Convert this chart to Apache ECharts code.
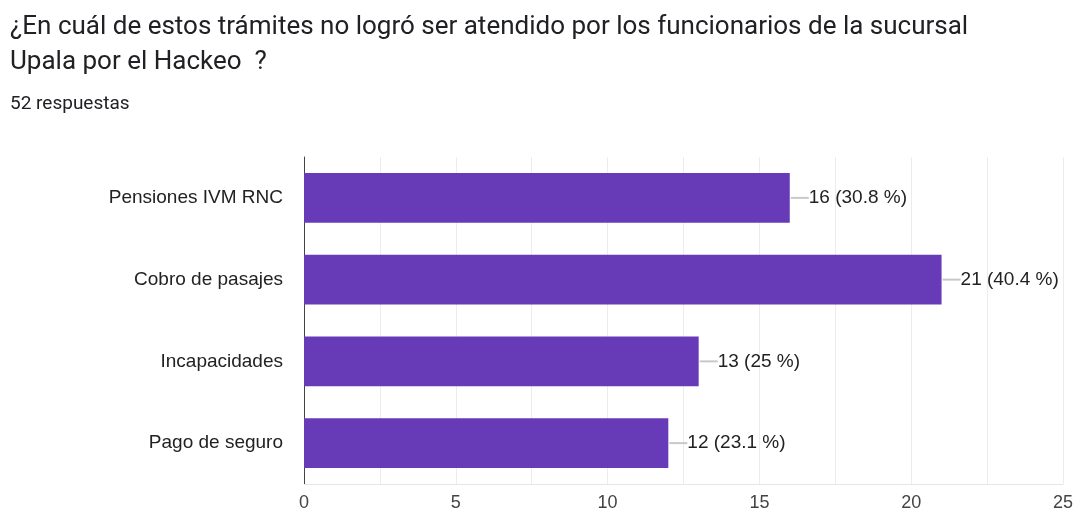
<!DOCTYPE html>
<html>
<head>
<meta charset="utf-8">
<script src="https://cdn.jsdelivr.net/npm/echarts@6/dist/echarts.min.js"></script>
<style>
  html, body { margin: 0; padding: 0; background: #fff; }
  #chart { width: 1080px; height: 515px; }
</style>
</head>
<body>
<div id="chart"></div>
<script>
// Survey answers: which procedure could not be handled after the hack
const categories = ['Pensiones IVM RNC', 'Cobro de pasajes', 'Incapacidades', 'Pago de seguro'];
const counts = [16, 21, 13, 12];
const percents = ['30.8', '40.4', '25', '23.1'];
const xTicks = [0, 5, 10, 15, 20, 25];

const chart = echarts.init(document.getElementById('chart'));

chart.setOption({
  animation: false,
  backgroundColor: '#ffffff',
  title: [
    {
      text: '¿En cuál de estos trámites no logró ser atendido por los funcionarios de la sucursal\nUpala por el Hackeo  ?',
      left: 10,
      top: 10,
      padding: 0,
      textStyle: {
        fontFamily: 'Roboto',
        fontSize: 26,
        fontWeight: 'normal',
        color: '#202124',
        lineHeight: 35
      }
    },
    {
      text: '52 respuestas',
      left: 10,
      top: 95,
      padding: 0,
      textStyle: {
        fontFamily: 'Roboto',
        fontSize: 19,
        fontWeight: 'normal',
        color: '#202124',
        lineHeight: 19
      }
    }
  ],
  grid: { left: 304, right: 17, top: 157, bottom: 31, containLabel: false },
  xAxis: {
    type: 'value',
    min: xTicks[0],
    max: xTicks[xTicks.length - 1],
    interval: xTicks[1] - xTicks[0],
    axisLine: { show: true, lineStyle: { color: '#e6e6e6' } },
    axisTick: { show: false },
    axisLabel: {
      margin: 10,
      fontFamily: 'Liberation Sans',
      fontSize: 18,
      color: '#444'
    },
    splitLine: { show: true, lineStyle: { color: '#ececec' } },
    minorTick: { show: false, splitNumber: 2 },
    minorSplitLine: { show: true, lineStyle: { color: '#ececec' } }
  },
  yAxis: {
    type: 'category',
    data: categories,
    inverse: true,
    axisLine: { show: true, onZero: false, lineStyle: { color: '#444', width: 1 } },
    axisTick: { show: false },
    axisLabel: {
      margin: 21,
      fontFamily: 'Liberation Sans',
      fontSize: 19,
      color: '#222'
    },
    splitLine: { show: false }
  },
  series: [{
    type: 'bar',
    data: counts,
    barCategoryGap: '39%',
    itemStyle: { color: '#673ab7' },
    label: {
      show: true,
      position: 'right',
      distance: 1,
      formatter: function (p) {
        return '{ln|}{v|' + counts[p.dataIndex] + ' (' + percents[p.dataIndex] + ' %)}';
      },
      rich: {
        ln: { width: 18, height: 2, backgroundColor: '#c8c8c8' },
        v: {
          fontFamily: 'Liberation Sans',
          fontSize: 19,
          color: '#222'
        }
      }
    }
  }]
});
</script>
</body>
</html>
